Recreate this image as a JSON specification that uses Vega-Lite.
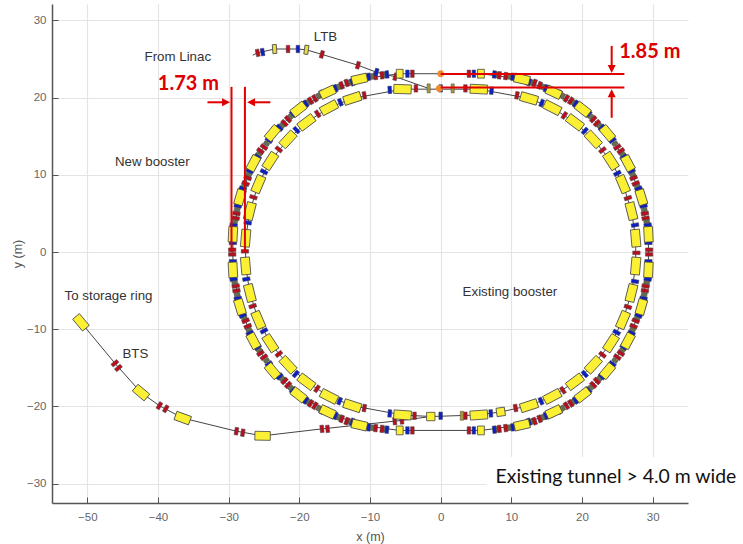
{
"$schema":"https://vega.github.io/schema/vega-lite/v6.json",
"width":636,"height":499,"autosize":"none",
"padding":{"left":52,"top":4,"right":55,"bottom":41},
"background":"white",
"config":{"view":{"stroke":null}},
"datasets":{
"rings":[
{"r":"outer","o":1,"x":-5.8,"y":23.1,"a":0,"k":"dShort"},{"r":"outer","o":2,"x":5.7,"y":23.1,"a":0,"k":"dShort"},{"r":"outer","o":3,"x":11.5,"y":22.4,"a":13,"k":"dOuter"},{"r":"outer","o":4,"x":16,"y":20.7,"a":25,"k":"dOuter"},{"r":"outer","o":5,"x":20.1,"y":18.5,"a":38,"k":"dOuter"},{"r":"outer","o":6,"x":23.6,"y":15.4,"a":50,"k":"dOuter"},{"r":"outer","o":7,"x":26.5,"y":11.5,"a":62,"k":"dOuter"},{"r":"outer","o":8,"x":28.4,"y":7.1,"a":73,"k":"dOuter"},{"r":"outer","o":9,"x":29.4,"y":2.3,"a":87,"k":"dOuter"},{"r":"outer","o":10,"x":29.4,"y":-2.3,"a":93,"k":"dOuter"},{"r":"outer","o":11,"x":28.4,"y":-7.1,"a":106,"k":"dOuter"},{"r":"outer","o":12,"x":26.5,"y":-11.5,"a":118,"k":"dOuter"},{"r":"outer","o":13,"x":23.6,"y":-15.4,"a":130,"k":"dOuter"},{"r":"outer","o":14,"x":20.1,"y":-18.5,"a":142,"k":"dOuter"},{"r":"outer","o":15,"x":16,"y":-20.7,"a":155,"k":"dOuter"},{"r":"outer","o":16,"x":11.5,"y":-22.4,"a":167,"k":"dOuter"},{"r":"outer","o":17,"x":5.7,"y":-23.1,"a":0,"k":"dShort"},{"r":"outer","o":18,"x":-5.8,"y":-23.1,"a":0,"k":"dShort"},{"r":"outer","o":19,"x":-11.5,"y":-22.4,"a":13,"k":"dOuter"},{"r":"outer","o":20,"x":-16,"y":-20.7,"a":25,"k":"dOuter"},{"r":"outer","o":21,"x":-20.1,"y":-18.5,"a":38,"k":"dOuter"},{"r":"outer","o":22,"x":-23.8,"y":-15.4,"a":50,"k":"dOuter"},{"r":"outer","o":23,"x":-26.5,"y":-11.5,"a":62,"k":"dOuter"},{"r":"outer","o":24,"x":-28.4,"y":-7.1,"a":73,"k":"dOuter"},{"r":"outer","o":25,"x":-29.4,"y":-2.3,"a":87,"k":"dOuter"},{"r":"outer","o":26,"x":-29.4,"y":2.3,"a":93,"k":"dOuter"},{"r":"outer","o":27,"x":-28.4,"y":7.1,"a":106,"k":"dOuter"},{"r":"outer","o":28,"x":-26.5,"y":11.5,"a":118,"k":"dOuter"},{"r":"outer","o":29,"x":-23.8,"y":15.4,"a":130,"k":"dOuter"},{"r":"outer","o":30,"x":-20.1,"y":18.5,"a":142,"k":"dOuter"},{"r":"outer","o":31,"x":-16,"y":20.7,"a":155,"k":"dOuter"},{"r":"outer","o":32,"x":-11.5,"y":22.4,"a":167,"k":"dOuter"},
{"r":"inner","o":1,"x":-5.4,"y":21.1,"a":2,"k":"dInner"},{"r":"inner","o":2,"x":5.4,"y":21.1,"a":3,"k":"dInner"},{"r":"inner","o":3,"x":12.5,"y":19.9,"a":16,"k":"dInner"},{"r":"inner","o":4,"x":15.8,"y":18.7,"a":27,"k":"dInner"},{"r":"inner","o":5,"x":19,"y":16.8,"a":37,"k":"dInner"},{"r":"inner","o":6,"x":21.6,"y":14.6,"a":47,"k":"dInner"},{"r":"inner","o":7,"x":24.1,"y":11.8,"a":57,"k":"dInner"},{"r":"inner","o":8,"x":25.8,"y":8.8,"a":67,"k":"dInner"},{"r":"inner","o":9,"x":27,"y":5.3,"a":76,"k":"dInner"},{"r":"inner","o":10,"x":27.6,"y":1.8,"a":85,"k":"dInner"},{"r":"inner","o":11,"x":27.6,"y":-1.8,"a":95,"k":"dInner"},{"r":"inner","o":12,"x":27,"y":-5.3,"a":104,"k":"dInner"},{"r":"inner","o":13,"x":25.8,"y":-8.8,"a":113,"k":"dInner"},{"r":"inner","o":14,"x":24.1,"y":-11.8,"a":123,"k":"dInner"},{"r":"inner","o":15,"x":21.6,"y":-14.6,"a":133,"k":"dInner"},{"r":"inner","o":16,"x":19,"y":-16.8,"a":143,"k":"dInner"},{"r":"inner","o":17,"x":15.8,"y":-18.7,"a":152,"k":"dInner"},{"r":"inner","o":18,"x":12.5,"y":-19.9,"a":162,"k":"dInner"},{"r":"inner","o":19,"x":8.5,"y":-20.7,"a":172,"k":"dSquare"},{"r":"inner","o":20,"x":5.4,"y":-21.1,"a":176,"k":"dInner"},{"r":"inner","o":21,"x":-1.4,"y":-21.3,"a":0,"k":"dSquare"},{"r":"inner","o":22,"x":-5.4,"y":-21.1,"a":4,"k":"dInner"},{"r":"inner","o":23,"x":-12.5,"y":-19.9,"a":18,"k":"dInner"},{"r":"inner","o":24,"x":-15.8,"y":-18.7,"a":27,"k":"dInner"},{"r":"inner","o":25,"x":-19,"y":-16.8,"a":37,"k":"dInner"},{"r":"inner","o":26,"x":-21.6,"y":-14.6,"a":47,"k":"dInner"},{"r":"inner","o":27,"x":-24.1,"y":-11.8,"a":57,"k":"dInner"},{"r":"inner","o":28,"x":-25.8,"y":-8.8,"a":67,"k":"dInner"},{"r":"inner","o":29,"x":-27,"y":-5.3,"a":76,"k":"dInner"},{"r":"inner","o":30,"x":-27.6,"y":-1.8,"a":85,"k":"dInner"},{"r":"inner","o":31,"x":-27.6,"y":1.8,"a":95,"k":"dInner"},{"r":"inner","o":32,"x":-27,"y":5.3,"a":104,"k":"dInner"},{"r":"inner","o":33,"x":-25.8,"y":8.8,"a":113,"k":"dInner"},{"r":"inner","o":34,"x":-24.1,"y":11.8,"a":123,"k":"dInner"},{"r":"inner","o":35,"x":-21.6,"y":14.6,"a":133,"k":"dInner"},{"r":"inner","o":36,"x":-19,"y":16.8,"a":143,"k":"dInner"},{"r":"inner","o":37,"x":-15.8,"y":18.7,"a":152,"k":"dInner"},{"r":"inner","o":38,"x":-12.5,"y":19.9,"a":162,"k":"dInner"}
],
"transfer":[
{"x":-23.5,"y":26.3,"a":-4,"k":"dThin"},{"x":-19,"y":26.2,"a":8,"k":"dThin"},
{"x":-50.9,"y":-9.1,"a":50,"k":"dOuter"},{"x":-42.4,"y":-18.2,"a":40,"k":"dOuter"},{"x":-36.5,"y":-21.5,"a":20,"k":"dOuter"},{"x":-25.2,"y":-23.8,"a":1,"k":"dOuter"}
],
"paths":[
{"p":"LTB","o":1,"x":-26.6,"y":25.5},{"p":"LTB","o":2,"x":-25.9,"y":25.8},{"p":"LTB","o":3,"x":-23.5,"y":26.3},{"p":"LTB","o":4,"x":-20.2,"y":26.3},{"p":"LTB","o":5,"x":-19,"y":26.2},{"p":"LTB","o":6,"x":-16.8,"y":25.6},{"p":"LTB","o":7,"x":-11.7,"y":24.2},{"p":"LTB","o":8,"x":-9.1,"y":23.3},{"p":"LTB","o":9,"x":-6.4,"y":22.7},{"p":"LTB","o":10,"x":-1.7,"y":21.2},
{"p":"BTS","o":1,"x":-50.9,"y":-9.1},{"p":"BTS","o":2,"x":-46.1,"y":-14.4},{"p":"BTS","o":3,"x":-42.4,"y":-18.2},{"p":"BTS","o":4,"x":-39.8,"y":-19.9},{"p":"BTS","o":5,"x":-36.5,"y":-21.5},{"p":"BTS","o":6,"x":-28.9,"y":-23.2},{"p":"BTS","o":7,"x":-25.2,"y":-23.8},{"p":"BTS","o":8,"x":-16.8,"y":-22.9},{"p":"BTS","o":9,"x":-5.5,"y":-21.8},{"p":"BTS","o":10,"x":-1.4,"y":-21.3},
{"p":"c1","o":1,"x":-11.5,"y":22.4},{"p":"c1","o":2,"x":-5.8,"y":23.1},
{"p":"c2","o":1,"x":-12.5,"y":19.9},{"p":"c2","o":2,"x":-5.4,"y":21.1}
],
"quads":[
{"x":7.95,"y":22.95,"a":6,"k":"green"},{"x":9.7,"y":22.75,"a":6,"k":"green"},{"x":12.9,"y":21.95,"a":19,"k":"green"},{"x":14.45,"y":21.4,"a":19,"k":"green"},{"x":17.3,"y":20.2,"a":31,"k":"green"},{"x":18.75,"y":19.4,"a":31,"k":"green"},{"x":21.25,"y":17.55,"a":44,"k":"green"},{"x":22.45,"y":16.4,"a":44,"k":"green"},{"x":24.65,"y":14.05,"a":56,"k":"green"},{"x":25.7,"y":12.7,"a":56,"k":"green"},{"x":27.15,"y":10.05,"a":67,"k":"green"},{"x":27.8,"y":8.55,"a":67,"k":"green"},{"x":28.8,"y":5.5,"a":80,"k":"green"},{"x":29.15,"y":3.95,"a":80,"k":"green"},
{"x":-7.95,"y":22.95,"a":-6,"k":"green"},{"x":-9.7,"y":22.75,"a":-6,"k":"green"},{"x":-12.9,"y":21.95,"a":-19,"k":"green"},{"x":-14.45,"y":21.4,"a":-19,"k":"green"},{"x":-17.3,"y":20.2,"a":-31,"k":"green"},{"x":-18.75,"y":19.4,"a":-31,"k":"green"},{"x":-21.25,"y":17.55,"a":-44,"k":"green"},{"x":-22.45,"y":16.4,"a":-44,"k":"green"},{"x":-24.65,"y":14.05,"a":-56,"k":"green"},{"x":-25.7,"y":12.7,"a":-56,"k":"green"},{"x":-27.15,"y":10.05,"a":-67,"k":"green"},{"x":-27.8,"y":8.55,"a":-67,"k":"green"},{"x":-28.8,"y":5.5,"a":-80,"k":"green"},{"x":-29.15,"y":3.95,"a":-80,"k":"green"},
{"x":7.95,"y":-22.95,"a":-6,"k":"green"},{"x":9.7,"y":-22.75,"a":-6,"k":"green"},{"x":12.9,"y":-21.95,"a":-19,"k":"green"},{"x":14.45,"y":-21.4,"a":-19,"k":"green"},{"x":17.3,"y":-20.2,"a":-31,"k":"green"},{"x":18.75,"y":-19.4,"a":-31,"k":"green"},{"x":21.25,"y":-17.55,"a":-44,"k":"green"},{"x":22.45,"y":-16.4,"a":-44,"k":"green"},{"x":24.65,"y":-14.05,"a":-56,"k":"green"},{"x":25.7,"y":-12.7,"a":-56,"k":"green"},{"x":27.15,"y":-10.05,"a":-67,"k":"green"},{"x":27.8,"y":-8.55,"a":-67,"k":"green"},{"x":28.8,"y":-5.5,"a":-80,"k":"green"},{"x":29.15,"y":-3.95,"a":-80,"k":"green"},
{"x":-7.95,"y":-22.95,"a":6,"k":"green"},{"x":-9.7,"y":-22.75,"a":6,"k":"green"},{"x":-12.9,"y":-21.95,"a":19,"k":"green"},{"x":-14.45,"y":-21.4,"a":19,"k":"green"},{"x":-17.3,"y":-20.2,"a":31,"k":"green"},{"x":-18.75,"y":-19.4,"a":31,"k":"green"},{"x":-21.25,"y":-17.55,"a":44,"k":"green"},{"x":-22.45,"y":-16.4,"a":44,"k":"green"},{"x":-24.65,"y":-14.05,"a":56,"k":"green"},{"x":-25.7,"y":-12.7,"a":56,"k":"green"},{"x":-27.15,"y":-10.05,"a":67,"k":"green"},{"x":-27.8,"y":-8.55,"a":67,"k":"green"},{"x":-28.8,"y":-5.5,"a":80,"k":"green"},{"x":-29.15,"y":-3.95,"a":80,"k":"green"},
{"x":7.6,"y":23,"a":6,"k":"blue"},{"x":8.3,"y":22.9,"a":6,"k":"red"},{"x":9.2,"y":22.8,"a":6,"k":"red"},{"x":10.2,"y":22.7,"a":6,"k":"blue"},{"x":12.5,"y":22,"a":19,"k":"blue"},{"x":13.3,"y":21.9,"a":19,"k":"red"},{"x":14,"y":21.6,"a":19,"k":"red"},{"x":14.9,"y":21.2,"a":19,"k":"blue"},{"x":16.8,"y":20.5,"a":31,"k":"blue"},{"x":17.8,"y":19.9,"a":31,"k":"red"},{"x":18.4,"y":19.6,"a":31,"k":"red"},{"x":19.1,"y":19.2,"a":31,"k":"blue"},{"x":20.9,"y":17.9,"a":44,"k":"blue"},{"x":21.6,"y":17.2,"a":44,"k":"red"},{"x":22.1,"y":16.7,"a":44,"k":"red"},{"x":22.8,"y":16.1,"a":44,"k":"blue"},{"x":24.3,"y":14.5,"a":56,"k":"blue"},{"x":25,"y":13.6,"a":56,"k":"red"},{"x":25.5,"y":13.1,"a":56,"k":"red"},{"x":25.9,"y":12.3,"a":56,"k":"blue"},{"x":27,"y":10.5,"a":67,"k":"blue"},{"x":27.3,"y":9.6,"a":67,"k":"red"},{"x":27.6,"y":8.9,"a":67,"k":"red"},{"x":28,"y":8.2,"a":67,"k":"blue"},{"x":28.7,"y":6,"a":80,"k":"blue"},{"x":28.9,"y":5,"a":80,"k":"red"},{"x":29,"y":4.4,"a":80,"k":"red"},{"x":29.3,"y":3.5,"a":80,"k":"blue"},
{"x":-7.6,"y":23,"a":-6,"k":"blue"},{"x":-8.3,"y":22.9,"a":-6,"k":"red"},{"x":-9.2,"y":22.8,"a":-6,"k":"red"},{"x":-10.2,"y":22.7,"a":-6,"k":"blue"},{"x":-12.5,"y":22,"a":-19,"k":"blue"},{"x":-13.3,"y":21.9,"a":-19,"k":"red"},{"x":-14,"y":21.6,"a":-19,"k":"red"},{"x":-14.9,"y":21.2,"a":-19,"k":"blue"},{"x":-16.8,"y":20.5,"a":-31,"k":"blue"},{"x":-17.8,"y":19.9,"a":-31,"k":"red"},{"x":-18.4,"y":19.6,"a":-31,"k":"red"},{"x":-19.1,"y":19.2,"a":-31,"k":"blue"},{"x":-20.9,"y":17.9,"a":-44,"k":"blue"},{"x":-21.6,"y":17.2,"a":-44,"k":"red"},{"x":-22.1,"y":16.7,"a":-44,"k":"red"},{"x":-22.8,"y":16.1,"a":-44,"k":"blue"},{"x":-24.3,"y":14.5,"a":-56,"k":"blue"},{"x":-25,"y":13.6,"a":-56,"k":"red"},{"x":-25.5,"y":13.1,"a":-56,"k":"red"},{"x":-25.9,"y":12.3,"a":-56,"k":"blue"},{"x":-27,"y":10.5,"a":-67,"k":"blue"},{"x":-27.3,"y":9.6,"a":-67,"k":"red"},{"x":-27.6,"y":8.9,"a":-67,"k":"red"},{"x":-28,"y":8.2,"a":-67,"k":"blue"},{"x":-28.7,"y":6,"a":-80,"k":"blue"},{"x":-28.9,"y":5,"a":-80,"k":"red"},{"x":-29,"y":4.4,"a":-80,"k":"red"},{"x":-29.3,"y":3.5,"a":-80,"k":"blue"},
{"x":7.6,"y":-23,"a":-6,"k":"blue"},{"x":8.3,"y":-22.9,"a":-6,"k":"red"},{"x":9.2,"y":-22.8,"a":-6,"k":"red"},{"x":10.2,"y":-22.7,"a":-6,"k":"blue"},{"x":12.5,"y":-22,"a":-19,"k":"blue"},{"x":13.3,"y":-21.9,"a":-19,"k":"red"},{"x":14,"y":-21.6,"a":-19,"k":"red"},{"x":14.9,"y":-21.2,"a":-19,"k":"blue"},{"x":16.8,"y":-20.5,"a":-31,"k":"blue"},{"x":17.8,"y":-19.9,"a":-31,"k":"red"},{"x":18.4,"y":-19.6,"a":-31,"k":"red"},{"x":19.1,"y":-19.2,"a":-31,"k":"blue"},{"x":20.9,"y":-17.9,"a":-44,"k":"blue"},{"x":21.6,"y":-17.2,"a":-44,"k":"red"},{"x":22.1,"y":-16.7,"a":-44,"k":"red"},{"x":22.8,"y":-16.1,"a":-44,"k":"blue"},{"x":24.3,"y":-14.5,"a":-56,"k":"blue"},{"x":25,"y":-13.6,"a":-56,"k":"red"},{"x":25.5,"y":-13.1,"a":-56,"k":"red"},{"x":25.9,"y":-12.3,"a":-56,"k":"blue"},{"x":27,"y":-10.5,"a":-67,"k":"blue"},{"x":27.3,"y":-9.6,"a":-67,"k":"red"},{"x":27.6,"y":-8.9,"a":-67,"k":"red"},{"x":28,"y":-8.2,"a":-67,"k":"blue"},{"x":28.7,"y":-6,"a":-80,"k":"blue"},{"x":28.9,"y":-5,"a":-80,"k":"red"},{"x":29,"y":-4.4,"a":-80,"k":"red"},{"x":29.3,"y":-3.5,"a":-80,"k":"blue"},
{"x":-7.6,"y":-23,"a":6,"k":"blue"},{"x":-8.3,"y":-22.9,"a":6,"k":"red"},{"x":-9.2,"y":-22.8,"a":6,"k":"red"},{"x":-10.2,"y":-22.7,"a":6,"k":"blue"},{"x":-12.5,"y":-22,"a":19,"k":"blue"},{"x":-13.3,"y":-21.9,"a":19,"k":"red"},{"x":-14,"y":-21.6,"a":19,"k":"red"},{"x":-14.9,"y":-21.2,"a":19,"k":"blue"},{"x":-16.8,"y":-20.5,"a":31,"k":"blue"},{"x":-17.8,"y":-19.9,"a":31,"k":"red"},{"x":-18.4,"y":-19.6,"a":31,"k":"red"},{"x":-19.1,"y":-19.2,"a":31,"k":"blue"},{"x":-20.9,"y":-17.9,"a":44,"k":"blue"},{"x":-21.6,"y":-17.2,"a":44,"k":"red"},{"x":-22.1,"y":-16.7,"a":44,"k":"red"},{"x":-22.8,"y":-16.1,"a":44,"k":"blue"},{"x":-24.3,"y":-14.5,"a":56,"k":"blue"},{"x":-25,"y":-13.6,"a":56,"k":"red"},{"x":-25.5,"y":-13.1,"a":56,"k":"red"},{"x":-25.9,"y":-12.3,"a":56,"k":"blue"},{"x":-27,"y":-10.5,"a":67,"k":"blue"},{"x":-27.3,"y":-9.6,"a":67,"k":"red"},{"x":-27.6,"y":-8.9,"a":67,"k":"red"},{"x":-28,"y":-8.2,"a":67,"k":"blue"},{"x":-28.7,"y":-6,"a":80,"k":"blue"},{"x":-28.9,"y":-5,"a":80,"k":"red"},{"x":-29,"y":-4.4,"a":80,"k":"red"},{"x":-29.3,"y":-3.5,"a":80,"k":"blue"},
{"x":29.4,"y":1.2,"a":90,"k":"blue"},{"x":29.5,"y":0.3,"a":90,"k":"red"},{"x":29.5,"y":-0.3,"a":90,"k":"red"},{"x":29.4,"y":-1.2,"a":90,"k":"blue"},{"x":-29.4,"y":1.2,"a":90,"k":"blue"},{"x":-29.5,"y":0.3,"a":90,"k":"red"},{"x":-29.5,"y":-0.3,"a":90,"k":"red"},{"x":-29.4,"y":-1.2,"a":90,"k":"blue"},
{"x":4,"y":23.1,"a":0,"k":"red"},{"x":4.7,"y":23.1,"a":0,"k":"blue"},{"x":-4,"y":23.1,"a":0,"k":"red"},{"x":-4.7,"y":23.1,"a":0,"k":"blue"},{"x":4,"y":-23.1,"a":0,"k":"red"},{"x":4.7,"y":-23.1,"a":0,"k":"blue"},{"x":-4,"y":-23.1,"a":0,"k":"red"},{"x":-4.7,"y":-23.1,"a":0,"k":"blue"},
{"x":-27.7,"y":0.1,"a":90,"k":"red"},{"x":-27.3,"y":3.8,"a":100,"k":"blue"},{"x":-26.5,"y":7.1,"a":108,"k":"red"},{"x":-25,"y":10.4,"a":118,"k":"blue"},{"x":-22.9,"y":13.3,"a":128,"k":"red"},{"x":-20.4,"y":15.8,"a":138,"k":"blue"},{"x":-17.4,"y":17.9,"a":147,"k":"red"},{"x":-14.2,"y":19.4,"a":157,"k":"blue"},{"x":-10.8,"y":20.3,"a":170,"k":"red"},{"x":-7.2,"y":21,"a":176,"k":"blue"},{"x":-3.5,"y":21.2,"a":0,"k":"red"},{"x":-1.7,"y":21.2,"a":0,"k":"olive"},{"x":0,"y":21.2,"a":0,"k":"blue"},{"x":1.7,"y":21.2,"a":0,"k":"olive"},{"x":3.5,"y":21.2,"a":0,"k":"red"},{"x":7.2,"y":20.9,"a":5,"k":"blue"},{"x":10.8,"y":20.3,"a":10,"k":"red"},{"x":14.3,"y":19.3,"a":22,"k":"blue"},{"x":17.5,"y":17.7,"a":33,"k":"red"},{"x":20.4,"y":15.7,"a":42,"k":"blue"},{"x":22.9,"y":13.2,"a":52,"k":"red"},{"x":25,"y":10.2,"a":62,"k":"blue"},{"x":26.5,"y":7,"a":72,"k":"red"},{"x":27.5,"y":3.5,"a":80,"k":"blue"},{"x":27.7,"y":-0.1,"a":90,"k":"red"},{"x":27.5,"y":-3.8,"a":100,"k":"blue"},{"x":26.5,"y":-7.1,"a":108,"k":"red"},{"x":24.9,"y":-10.4,"a":118,"k":"blue"},{"x":22.9,"y":-13.3,"a":128,"k":"red"},{"x":20.4,"y":-15.8,"a":138,"k":"blue"},{"x":17.3,"y":-17.9,"a":147,"k":"red"},{"x":14.2,"y":-19.3,"a":157,"k":"blue"},{"x":10.6,"y":-20.2,"a":170,"k":"red"},{"x":7.1,"y":-20.9,"a":176,"k":"blue"},{"x":3.5,"y":-21.2,"a":0,"k":"red"},{"x":3,"y":-21.2,"a":0,"k":"olive"},{"x":0,"y":-21.2,"a":0,"k":"blue"},{"x":-3.7,"y":-21.2,"a":0,"k":"red"},{"x":-7.2,"y":-20.9,"a":5,"k":"blue"},{"x":-10.8,"y":-20.2,"a":10,"k":"red"},{"x":-14.3,"y":-19.3,"a":22,"k":"blue"},{"x":-17.5,"y":-17.7,"a":33,"k":"red"},{"x":-20.5,"y":-15.8,"a":42,"k":"blue"},{"x":-22.9,"y":-13.2,"a":52,"k":"red"},{"x":-25,"y":-10.2,"a":62,"k":"blue"},{"x":-26.6,"y":-7,"a":72,"k":"red"},{"x":-27.5,"y":-3.5,"a":80,"k":"blue"},
{"x":-25.9,"y":25.8,"a":-12,"k":"red"},{"x":-25.2,"y":25.9,"a":-10,"k":"blue"},{"x":-21.6,"y":26.3,"a":0,"k":"red"},{"x":-20.2,"y":26.3,"a":0,"k":"blue"},{"x":-16.8,"y":25.6,"a":16,"k":"red"},{"x":-11.7,"y":24.2,"a":16,"k":"red"},{"x":-9.1,"y":23.3,"a":16,"k":"blue"},{"x":-6.4,"y":22.7,"a":16,"k":"red"},
{"x":-46.1,"y":-14.4,"a":50,"k":"red"},{"x":-45.6,"y":-15,"a":50,"k":"red"},{"x":-39.8,"y":-19.9,"a":30,"k":"red"},{"x":-38.9,"y":-20.3,"a":30,"k":"red"},{"x":-28.9,"y":-23.2,"a":10,"k":"red"},{"x":-28,"y":-23.4,"a":10,"k":"red"},{"x":-16.8,"y":-22.9,"a":-6,"k":"red"},{"x":-16,"y":-22.9,"a":-6,"k":"red"},{"x":-6.5,"y":-21.9,"a":-6,"k":"red"},{"x":-5.5,"y":-21.8,"a":-6,"k":"red"}
],
"rules":[
{"x":0,"y":23.05,"x2":26,"y2":23.05},{"x":0,"y":21.3,"x2":26,"y2":21.3},
{"x":24.2,"y":26.7,"x2":24.2,"y2":23.6},{"x":24.2,"y":17.4,"x2":24.2,"y2":20.7},
{"x":-29.6,"y":21.4,"x2":-29.6,"y2":0},{"x":-27.7,"y":21.4,"x2":-27.7,"y2":0},
{"x":-33,"y":19.4,"x2":-30.5,"y2":19.4},{"x":-24.1,"y":19.4,"x2":-26.8,"y2":19.4}
],
"heads":[
{"x":24.2,"y":23.2,"a":90,"k":"head"},{"x":24.2,"y":21.1,"a":270,"k":"head"},{"x":-29.8,"y":19.4,"a":0,"k":"head"},{"x":-27.4,"y":19.4,"a":180,"k":"head"}
],
"orange":[{"x":0,"y":23.1,"a":0,"k":"orange"},{"x":-0.2,"y":21.2,"a":0,"k":"orange"}],
"labels":[
{"x":-16.3,"y":27.8,"t":"LTB"},{"x":-37.2,"y":25.3,"t":"From Linac"},{"x":-40.8,"y":11.7,"t":"New booster"},{"x":-47,"y":-5.7,"t":"To storage ring"},{"x":-43.2,"y":-13.2,"t":"BTS"},{"x":9.8,"y":-5.2,"t":"Existing booster"}
],
"redLabels":[{"x":-35.7,"y":21.8,"t":"1.73 m"},{"x":29.6,"y":25.9,"t":"1.85 m"}],
"note":[{"x":24.8,"y":-29.1,"t":"Existing tunnel > 4.0 m wide"}],
"mask":[{"x":6.5,"x2":35,"y":-26.55,"y2":-31.6}]
},
"encoding":{
"x":{"field":"x","type":"quantitative","scale":{"domain":[-55,35],"nice":false,"zero":false},
"axis":{"values":[-50,-40,-30,-20,-10,0,10,20,30],"title":"x (m)","titleFont":"Liberation Sans","titleFontWeight":"normal","titleFontSize":12.5,"titleColor":"#555555","titlePadding":8,"labelFont":"Liberation Sans","labelFontSize":11.5,"labelColor":"#666666","labelPadding":14,"tickSize":-6,"tickColor":"#555555","domainColor":"#555555","domainWidth":1.5,"grid":true,"gridColor":"#e4e4e4","gridWidth":1.2}},
"y":{"field":"y","type":"quantitative","scale":{"domain":[-32.5,32.13],"nice":false,"zero":false},
"axis":{"values":[-30,-20,-10,0,10,20,30],"title":"y (m)","titleFont":"Liberation Sans","titleFontWeight":"normal","titleFontSize":12.5,"titleColor":"#555555","titlePadding":2,"labelFont":"Liberation Sans","labelFontSize":11.5,"labelColor":"#666666","labelPadding":12,"tickSize":-6,"tickColor":"#555555","domainColor":"#555555","domainWidth":1.5,"grid":true,"gridColor":"#e4e4e4","gridWidth":1.2}}
},
"layer":[
{"data":{"name":"rings"},"mark":{"type":"line","color":"#444444","strokeWidth":1},"encoding":{"detail":{"field":"r"},"order":{"field":"o","type":"quantitative"}}},
{"data":{"name":"paths"},"mark":{"type":"line","color":"#444444","strokeWidth":1},"encoding":{"detail":{"field":"p"},"order":{"field":"o","type":"quantitative"}}},
{"data":{"name":"quads"},"mark":{"type":"point","filled":true,"opacity":1,"size":4,"stroke":"#444444","strokeWidth":0.5},
"encoding":{"angle":{"field":"a","type":"quantitative","scale":null},
"color":{"field":"k","type":"nominal","legend":null,"scale":{"domain":["dOuter","dInner","dShort","dSquare","dThin","blue","red","green","olive","head","orange"],"range":["#fbf033","#fbf033","#fbf033","#fbf033","#e8dc40","#0d1fc4","#b80f1e","#66704f","#a89a35","#e00000","#f08a2b"]}},
"shape":{"field":"k","type":"nominal","legend":null,"scale":{"domain":["dOuter","dInner","dShort","dSquare","dThin","blue","red","green","olive","head","orange"],"range":["M-7.7,-4.4H7.7V4.4H-7.7Z","M-8.7,-4.5H8.7V4.5H-8.7Z","M-3.4,-4.4H3.4V4.4H-3.4Z","M-4.2,-4.2H4.2V4.2H-4.2Z","M-2,-4.5H2V4.5H-2Z","M-1.8,-3.7H1.8V3.7H-1.8Z","M-1.8,-3.7H1.8V3.7H-1.8Z","M-1.7,-2.8H1.7V2.8H-1.7Z","M-1.6,-4.5H1.6V4.5H-1.6Z","M0,0L-8,-4V4Z","M-3.5,0A3.5,3.5 0 1,0 3.5,0A3.5,3.5 0 1,0 -3.5,0Z"]}}}},
{"data":{"name":"rings"},"mark":{"type":"point","filled":true,"opacity":1,"size":4,"stroke":"#444444","strokeWidth":0.8},
"encoding":{"angle":{"field":"a","type":"quantitative","scale":null},"color":{"field":"k","type":"nominal","legend":null},"shape":{"field":"k","type":"nominal","legend":null}}},
{"data":{"name":"transfer"},"mark":{"type":"point","filled":true,"opacity":1,"size":4,"stroke":"#444444","strokeWidth":0.8},
"encoding":{"angle":{"field":"a","type":"quantitative","scale":null},"color":{"field":"k","type":"nominal","legend":null},"shape":{"field":"k","type":"nominal","legend":null}}},
{"data":{"name":"orange"},"mark":{"type":"point","filled":true,"opacity":1,"size":4},
"encoding":{"angle":{"field":"a","type":"quantitative","scale":null},"color":{"field":"k","type":"nominal","legend":null},"shape":{"field":"k","type":"nominal","legend":null}}},
{"data":{"name":"rules"},"mark":{"type":"rule","color":"#e00000","strokeWidth":2},"encoding":{"x2":{"field":"x2"},"y2":{"field":"y2"}}},
{"data":{"name":"heads"},"mark":{"type":"point","filled":true,"opacity":1,"size":4},
"encoding":{"angle":{"field":"a","type":"quantitative","scale":null},"color":{"field":"k","type":"nominal","legend":null},"shape":{"field":"k","type":"nominal","legend":null}}},
{"data":{"name":"labels"},"mark":{"type":"text","font":"Liberation Sans","fontSize":13.3,"color":"#333333","align":"center","baseline":"middle"},"encoding":{"text":{"field":"t"}}},
{"data":{"name":"redLabels"},"mark":{"type":"text","font":"Lato","fontWeight":"bold","fontSize":20,"color":"#dd0000","align":"center","baseline":"middle"},"encoding":{"text":{"field":"t"}}},
{"data":{"name":"mask"},"mark":{"type":"rect","color":"white","opacity":1},"encoding":{"x2":{"field":"x2"},"y2":{"field":"y2"}}},
{"data":{"name":"note"},"mark":{"type":"text","font":"Lato","fontSize":19.4,"color":"#111111","align":"center","baseline":"middle"},"encoding":{"text":{"field":"t"}}}
]
}
